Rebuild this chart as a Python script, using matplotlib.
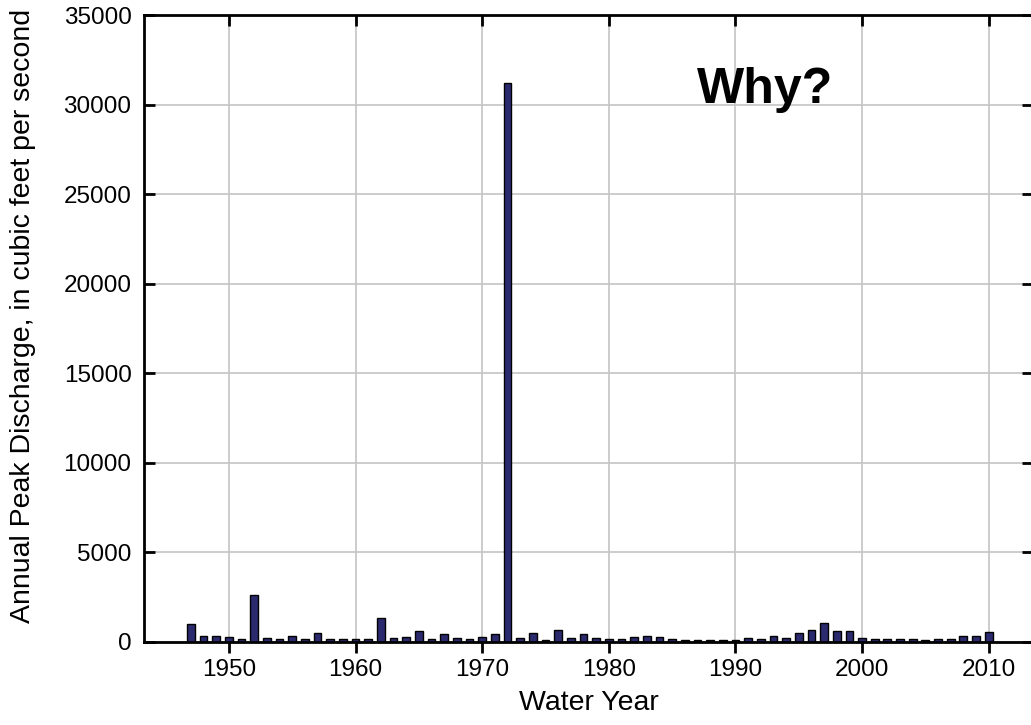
import numpy as np
import matplotlib.pyplot as plt

plt.rcParams['font.family'] = ['Liberation Sans', 'DejaVu Sans']

# annual peak discharge per water year (cfs)
years = list(range(1947, 2011))
peaks = [1000, 330, 350, 300, 150, 2600, 200, 180, 350, 170, 500, 150, 150,
         150, 150, 1340, 200, 300, 630, 150, 470, 200, 170, 300, 420, 31200,
         200, 520, 120, 680, 250, 470, 200, 150, 170, 300, 330, 300, 150,
         130, 130, 130, 130, 130, 230, 170, 350, 230, 500, 680, 1070, 630,
         630, 200, 150, 140, 140, 140, 130, 140, 140, 350, 320, 560]
yticks = [0, 5000, 10000, 15000, 20000, 25000, 30000, 35000]
xticks = [1950, 1960, 1970, 1980, 1990, 2000, 2010]

fig = plt.figure(figsize=(10.31, 7.25), dpi=100)
ax = fig.add_axes([0.1397, 0.1145, 0.8623, 0.8648])

ax.bar(years, peaks, width=0.62, color='#2b2a6e', edgecolor='black',
       linewidth=1.0, zorder=3)

ax.set_xlim(1943.3, 2013.5)
ax.set_ylim(0, 35000)
ax.set_xticks(xticks)
ax.set_yticks(yticks)
ax.grid(True, color='#c4c4c4', linewidth=1.2, zorder=0)

for s in ax.spines.values():
    s.set_linewidth(2.0)
    s.set_zorder(4)

ax.tick_params(axis='x', which='both', direction='out', length=8, width=2,
               labelsize=17.5, pad=4, top=True)
ax.tick_params(axis='y', which='both', direction='in', length=8, width=2,
               labelsize=17.5, pad=9, right=True)
for t in ax.xaxis.get_ticklines(minor=False)[1::2]:
    t.set_marker(3)  # top ticks point into the plot

ax.set_xlabel('Water Year', fontsize=20.5, labelpad=7)
ax.set_ylabel('Annual Peak Discharge, in cubic feet per second', fontsize=20.5)
ax.yaxis.set_label_coords(-0.121, 0.52)

ax.text(1992.3, 30800, 'Why?', fontsize=36, fontweight='bold', ha='center',
        va='center', zorder=5)

fig.savefig('out.png', dpi=100)
